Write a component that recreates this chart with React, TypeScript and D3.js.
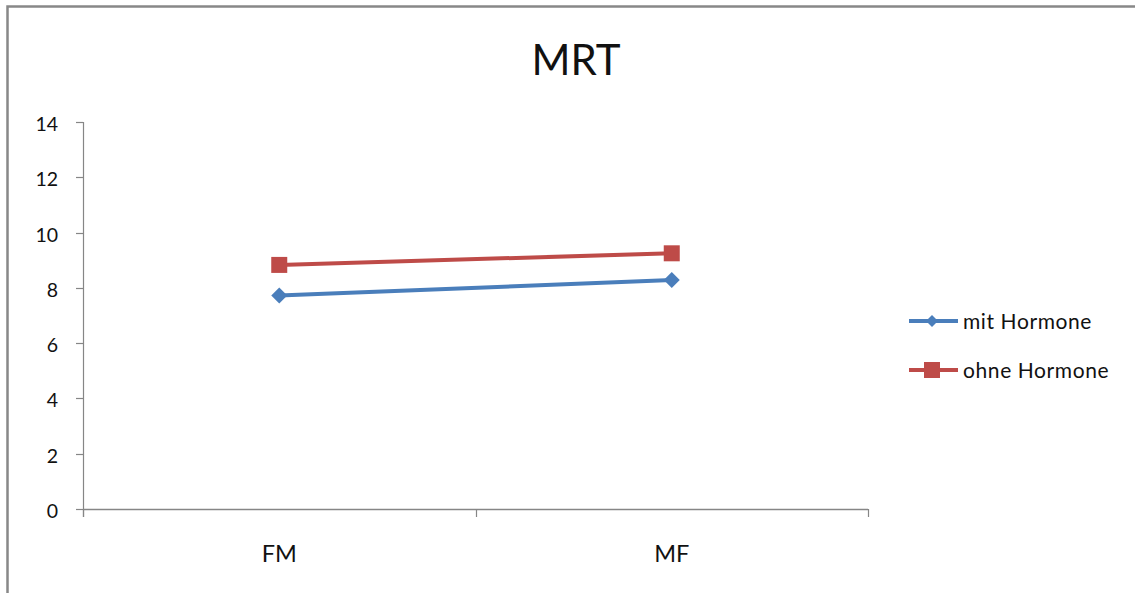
import React, { useEffect, useRef } from "react";
import * as d3 from "d3";

// Chart data
const categories = ["FM", "MF"];
const mitHormone = [7.72, 8.28];
const ohneHormone = [8.83, 9.25];
const yTicks = [0, 2, 4, 6, 8, 10, 12, 14];
const seriesNames = ["mit Hormone", "ohne Hormone"];

const W = 1135;
const H = 593;
const FONT = "Lato, 'Open Sans', sans-serif";
const AXIS = "#868686";
const BLUE = "#4a7ebb";
const RED = "#be4b48";

export default function App() {
  const ref = useRef<SVGSVGElement>(null);

  useEffect(() => {
    const svg = d3.select(ref.current);
    svg.selectAll("*").remove();

    // chart frame
    svg
      .append("rect")
      .attr("x", 7.5)
      .attr("y", 6.5)
      .attr("width", W + 20)
      .attr("height", H + 20)
      .attr("fill", "white")
      .attr("stroke", "#888")
      .attr("stroke-width", 2.5);

    const left = 83;
    const right = 868;
    const top = 122;
    const bottom = 509;

    const x = d3.scaleBand<string>().domain(categories).range([left, right]);
    const y = d3.scaleLinear().domain([0, 14]).range([bottom, top]);

    // title
    svg
      .append("text")
      .attr("x", 576)
      .attr("y", 75)
      .attr("text-anchor", "middle")
      .attr("font-family", FONT)
      .attr("font-size", 42)
      .attr("fill", "#111")
      .text("MRT");

    // y axis
    const g = svg.append("g");
    g.append("line")
      .attr("x1", left + 0.5)
      .attr("x2", left + 0.5)
      .attr("y1", y(14))
      .attr("y2", y(0) + 8)
      .attr("stroke", AXIS)
      .attr("stroke-width", 1.2);
    yTicks.forEach((t) => {
      g.append("line")
        .attr("x1", left - 7)
        .attr("x2", left)
        .attr("y1", Math.round(y(t)) + 0.5)
        .attr("y2", Math.round(y(t)) + 0.5)
        .attr("stroke", AXIS)
        .attr("stroke-width", 1.2);
      g.append("text")
        .attr("x", 58)
        .attr("y", y(t) + 9)
        .attr("text-anchor", "end")
        .attr("font-family", FONT)
        .attr("font-size", 19.5)
        .attr("fill", "#111")
        .text(String(t));
    });

    // x axis
    g.append("line")
      .attr("x1", left)
      .attr("x2", right)
      .attr("y1", Math.round(y(0)) + 0.5)
      .attr("y2", Math.round(y(0)) + 0.5)
      .attr("stroke", AXIS)
      .attr("stroke-width", 1.4);
    const bounds = [left, ...categories.map((c) => (x(c) as number) + x.bandwidth())];
    bounds.forEach((bx) => {
      g.append("line")
        .attr("x1", Math.round(bx) + 0.5)
        .attr("x2", Math.round(bx) + 0.5)
        .attr("y1", y(0))
        .attr("y2", y(0) + 8)
        .attr("stroke", AXIS)
        .attr("stroke-width", 1.2);
    });
    categories.forEach((c) => {
      g.append("text")
        .attr("x", (x(c) as number) + x.bandwidth() / 2)
        .attr("y", 562)
        .attr("text-anchor", "middle")
        .attr("font-family", FONT)
        .attr("font-size", 23.5)
        .attr("fill", "#111")
        .text(c);
    });

    const cx = (i: number) => (x(categories[i]) as number) + x.bandwidth() / 2;
    const line = d3
      .line<number>()
      .x((_, i) => cx(i))
      .y((d) => y(d));

    const diamond = (sel: any, px: number, py: number, r: number) =>
      sel
        .append("path")
        .attr("d", `M${px},${py - r}L${px + r},${py}L${px},${py + r}L${px - r},${py}Z`)
        .attr("fill", BLUE);
    const square = (sel: any, px: number, py: number) =>
      sel
        .append("rect")
        .attr("x", px - 8)
        .attr("y", py - 8)
        .attr("width", 16)
        .attr("height", 16)
        .attr("fill", RED);

    const plot = svg.append("g") as any;
    plot
      .append("path")
      .datum(mitHormone)
      .attr("d", line)
      .attr("fill", "none")
      .attr("stroke", BLUE)
      .attr("stroke-width", 4);
    plot
      .append("path")
      .datum(ohneHormone)
      .attr("d", line)
      .attr("fill", "none")
      .attr("stroke", RED)
      .attr("stroke-width", 4);
    mitHormone.forEach((v, i) => diamond(plot, cx(i), y(v), 8));
    ohneHormone.forEach((v, i) => square(plot, cx(i), y(v)));

    // legend
    const leg = svg.append("g") as any;
    const legY = [321, 370];
    const colors = [BLUE, RED];
    seriesNames.forEach((name, i) => {
      leg
        .append("line")
        .attr("x1", 909)
        .attr("x2", 958)
        .attr("y1", legY[i])
        .attr("y2", legY[i])
        .attr("stroke", colors[i])
        .attr("stroke-width", 4);
      if (i === 0) {
        diamond(leg, 932, legY[i], 6);
      } else {
        square(leg, 932, legY[i]);
      }
      leg
        .append("text")
        .attr("x", 963)
        .attr("y", legY[i] + 7.5)
        .attr("font-family", FONT)
        .attr("font-size", 21)
        .attr("letter-spacing", 0.6)
        .attr("fill", "#111")
        .text(name);
    });
  }, []);

  return (
    <svg
      ref={ref}
      width={W}
      height={H}
      style={{ position: "absolute", left: 0, top: 0, display: "block", background: "white" }}
    />
  );
}
